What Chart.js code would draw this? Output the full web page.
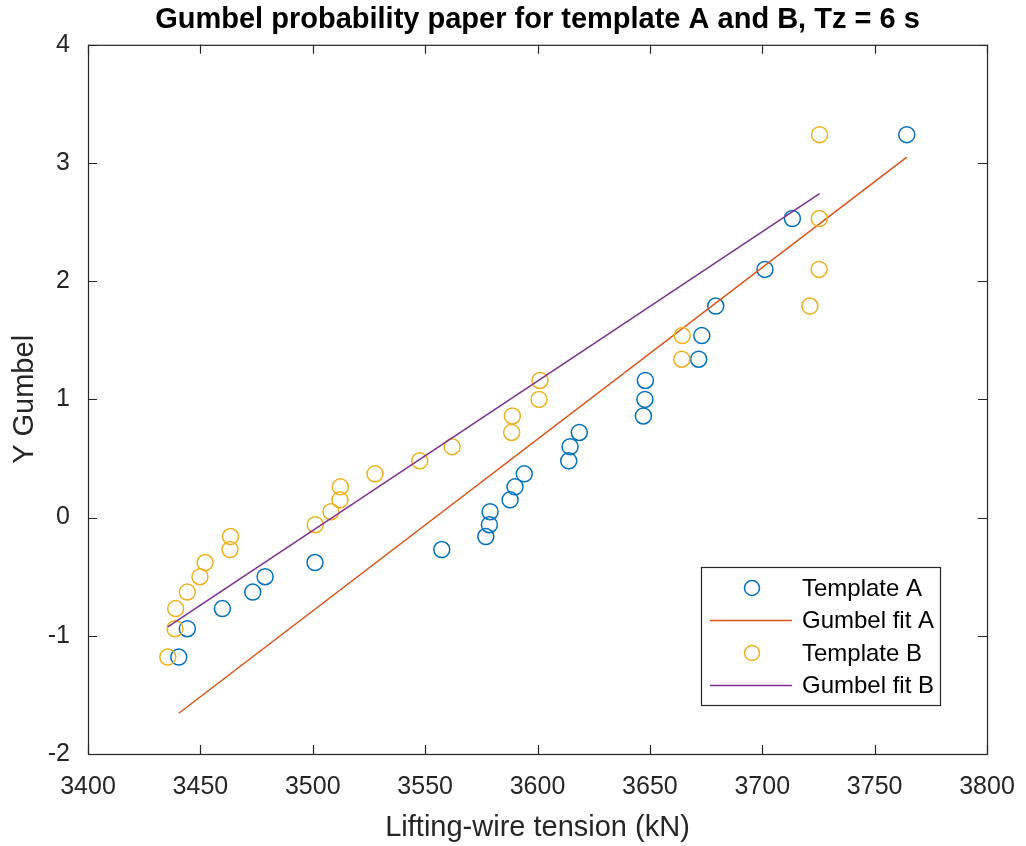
<!DOCTYPE html>
<html>
<head>
<meta charset="utf-8">
<script src="https://cdn.jsdelivr.net/npm/chart.js@4.4.1/dist/chart.umd.min.js"></script>
<style>
  html, body { margin: 0; padding: 0; background: #fff; }
  #wrap { width: 1026px; height: 846px; }
</style>
</head>
<body>
<div id="wrap"><canvas id="graph"></canvas></div>
<script>
// reduced Gumbel variate for the 25 sorted maxima
const yGumbel = [-1.18, -0.94, -0.77, -0.63, -0.50, -0.38, -0.27, -0.16, -0.06, 0.05,
  0.15, 0.26, 0.37, 0.48, 0.60, 0.72, 0.86, 1.00, 1.16, 1.34, 1.54, 1.79, 2.10, 2.53, 3.24]

// lifting-wire tension (kN), sorted
const tensionA = [3440.4, 3444.2, 3459.8, 3473.3, 3478.8, 3501.0, 3557.4, 3577.0, 3578.6, 3578.9,
  3587.8, 3590.0, 3594.1, 3613.9, 3614.5, 3618.6, 3647.1, 3647.8, 3648.0, 3671.7,
  3673.1, 3679.3, 3701.2, 3713.4, 3764.3]
const tensionB = [3435.5, 3438.7, 3439.0, 3444.2, 3449.8, 3452.1, 3463.2, 3463.4, 3501.1, 3508.1,
  3512.1, 3512.3, 3527.7, 3547.6, 3562.0, 3588.5, 3588.8, 3600.7, 3601.1, 3664.2,
  3664.4, 3721.2, 3725.3, 3725.4, 3725.5]

// fitted lines (end points)
const fitAx = [3440.4, 3764.3]
const fitAy = [-1.655, 3.05]
const fitBx = [3435.5, 3725.5]
const fitBy = [-0.925, 2.74]

const xTicks = [3400, 3800, 50]
const yTicks = [-2, 4, 1]

const colors = { a: '#0072BD', fitA: '#D95319', b: '#EDB120', fitB: '#7E2F8E' }
const axisColor = '#262626'
const font = 'Liberation Sans, Arial, Helvetica, sans-serif'

const pairs = (xs, ys) => xs.map((x, i) => ({ x, y: ys[i] }))

// box with inward ticks on all four sides
const boxTicks = {
  id: 'boxTicks',
  afterDraw(chart) {
    const { ctx, chartArea: { left, right, top, bottom }, scales: { x, y } } = chart
    const len = 9
    ctx.save()
    ctx.strokeStyle = axisColor
    ctx.lineWidth = 1.2
    ctx.strokeRect(left + 0.5, top + 0.5, right - left, bottom - top)
    ctx.beginPath()
    x.ticks.forEach(t => {
      const px = Math.round(x.getPixelForValue(t.value)) + 0.5
      ctx.moveTo(px, bottom); ctx.lineTo(px, bottom - len)
      ctx.moveTo(px, top); ctx.lineTo(px, top + len)
    })
    y.ticks.forEach(t => {
      const py = Math.round(y.getPixelForValue(t.value)) + 0.5
      ctx.moveTo(left, py); ctx.lineTo(left + len, py)
      ctx.moveTo(right, py); ctx.lineTo(right - len, py)
    })
    ctx.stroke()
    ctx.restore()
  }
}

// legend box inside the plot, lower right
const insideLegend = {
  id: 'insideLegend',
  afterDraw(chart) {
    const { ctx } = chart
    const bx = 701, by = 567, bw = 239, bh = 138
    ctx.save()
    ctx.fillStyle = '#fff'
    ctx.fillRect(bx, by, bw, bh)
    ctx.strokeStyle = axisColor
    ctx.lineWidth = 1.2
    ctx.strokeRect(bx + 0.5, by + 0.5, bw, bh)
    ctx.font = '24px ' + font
    ctx.textBaseline = 'middle'
    chart.data.datasets.forEach((ds, i) => {
      const cy = by + 21 + i * 32.5
      ctx.strokeStyle = ds.borderColor
      ctx.lineWidth = 1.5
      ctx.beginPath()
      if (ds.showLine) {
        ctx.moveTo(bx + 9, cy); ctx.lineTo(bx + 91, cy)
      } else {
        ctx.arc(bx + 51, cy, 7.5, 0, Math.PI * 2)
      }
      ctx.stroke()
      ctx.fillStyle = '#000'
      ctx.fillText(ds.label, bx + 101, cy + 1)
    })
    ctx.restore()
  }
}

const graph = () => {
  const ctx = document.getElementById('graph')
  new Chart(ctx, {
    type: 'scatter',
    plugins: [boxTicks, insideLegend],
    data: {
      datasets: [
        {
          label: 'Template A',
          data: pairs(tensionA, yGumbel),
          borderColor: colors.a,
          backgroundColor: 'transparent',
          pointRadius: 8, pointBorderWidth: 1.5,
          order: 4
        },
        {
          label: 'Gumbel fit A',
          data: pairs(fitAx, fitAy),
          showLine: true,
          borderColor: colors.fitA,
          borderWidth: 1.5,
          pointRadius: 0,
          order: 3
        },
        {
          label: 'Template B',
          data: pairs(tensionB, yGumbel),
          borderColor: colors.b,
          backgroundColor: 'transparent',
          pointRadius: 8, pointBorderWidth: 1.5,
          order: 2
        },
        {
          label: 'Gumbel fit B',
          data: pairs(fitBx, fitBy),
          showLine: true,
          borderColor: colors.fitB,
          borderWidth: 1.5,
          pointRadius: 0,
          order: 1
        }
      ]
    },
    options: {
      responsive: true,
      maintainAspectRatio: false,
      animation: false,
      events: [],
      layout: { padding: { right: 39 } },
      plugins: {
        legend: { display: false },
        tooltip: { enabled: false },
        title: {
          display: true,
          fullSize: false,
          text: 'Gumbel probability paper for template A and B, Tz = 6 s',
          color: '#000',
          font: { family: font, size: 29, weight: 'bold' },
          padding: { top: 3, bottom: 7 }
        }
      },
      scales: {
        x: {
          type: 'linear',
          min: xTicks[0], max: xTicks[1],
          grid: { display: false },
          border: { display: false },
          ticks: { stepSize: xTicks[2], color: axisColor, font: { family: font, size: 25 }, padding: 10, maxRotation: 0, callback: v => String(v) },
          title: { display: true, text: 'Lifting-wire tension (kN)', color: axisColor, font: { family: font, size: 29 }, padding: { bottom: 1 } },
          afterFit(scale) { scale.height = 92 }
        },
        y: {
          min: yTicks[0], max: yTicks[1],
          grid: { display: false },
          border: { display: false },
          ticks: { stepSize: yTicks[2], color: axisColor, font: { family: font, size: 25 }, padding: 10, callback: v => String(v) },
          title: { display: true, text: 'Y Gumbel', color: axisColor, font: { family: font, size: 29 }, padding: { top: 8 } },
          afterFit(scale) { scale.width = 88 }
        }
      }
    }
  })
}

graph()
</script>
</body>
</html>
